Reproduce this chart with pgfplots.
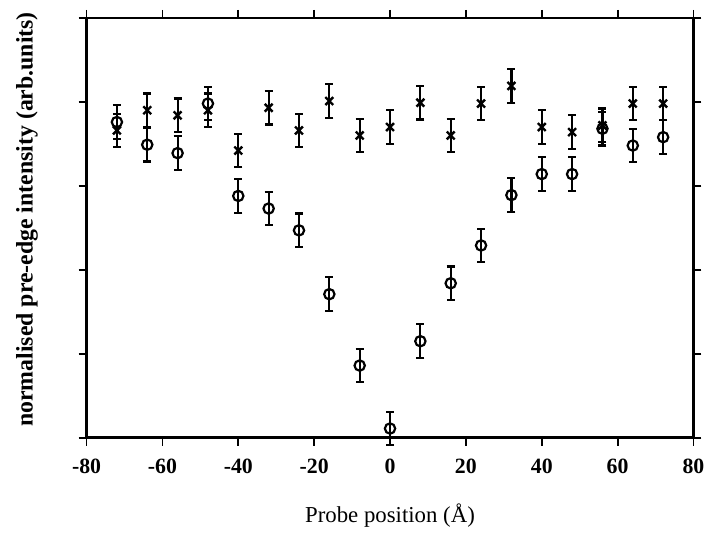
\documentclass[border=0pt]{standalone}
\usepackage{pgfplots}
\pgfplotsset{compat=1.18}
\usepackage{fontspec}
\setmainfont{Liberation Serif}
\begin{document}
\begin{tikzpicture}
\begin{axis}[
  scale only axis=true,
  width=305bp, height=211bp,
  xmin=-80, xmax=80, ymin=0, ymax=5,
  xtick={-80,-60,...,80},
  ytick={0,1,2,3,4,5},
  yticklabels={},
  tick align=outside,
  major tick length=4bp,
  tick style={black, line width=0.9bp},
  axis line style={line width=1.3bp},
  /pgf/number format/assume math mode=true,
  xticklabel style={font=\fontsize{11}{12}\selectfont\bfseries, yshift=-3bp},
  xlabel={Probe position (Å)},
  xlabel style={font=\fontsize{11.5}{12}\selectfont, at={(axis description cs:0.5,0)}, anchor=center, yshift=-39bp},
  ylabel={normalised pre-edge intensity (arb.units)},
  ylabel style={font=\fontsize{12}{13}\selectfont\bfseries, at={(axis description cs:-0.098,0.52)}, anchor=center},
  clip=false,
]
% circles
\addplot[black, line width=0.9bp, only marks, mark=o, mark size=2.6bp, mark options={fill=white, line width=1.1bp},
  error bars/.cd, y dir=both, y explicit, error bar style={line width=1.1bp}, error mark options={rotate=90, mark size=2bp, line width=1.1bp}]
table[x=x, y=y, y error=e] {
x y e
-72 3.76 0.20
-64 3.49 0.20
-56 3.39 0.20
-48 3.98 0.20
-40 2.88 0.20
-32 2.73 0.20
-24 2.47 0.20
-16 1.71 0.20
-8 0.86 0.20
0 0.11 0.20
8 1.15 0.20
16 1.84 0.20
24 2.29 0.20
32 2.89 0.20
40 3.14 0.20
48 3.14 0.20
56 3.68 0.20
64 3.48 0.20
72 3.58 0.20
};
% crosses
\addplot[black, line width=0.9bp, only marks, mark=x, mark size=2.8bp, mark options={line width=1.2bp},
  error bars/.cd, y dir=both, y explicit, error bar style={line width=1.1bp}, error mark options={rotate=90, mark size=2bp, line width=1.1bp}]
table[x=x, y=y, y error=e] {
x y e
-72 3.66 0.20
-64 3.90 0.20
-56 3.84 0.20
-48 3.90 0.20
-40 3.42 0.20
-32 3.93 0.20
-24 3.66 0.20
-16 4.01 0.20
-8 3.60 0.20
0 3.70 0.20
8 3.99 0.20
16 3.60 0.20
24 3.98 0.20
32 4.19 0.20
40 3.70 0.20
48 3.64 0.20
56 3.72 0.20
64 3.98 0.20
72 3.98 0.20
};
\end{axis}
\path ([xshift=-43.5bp,yshift=-45.5bp]current axis.south west) rectangle ([xshift=7bp,yshift=9bp]current axis.north east);
\end{tikzpicture}
\end{document}
